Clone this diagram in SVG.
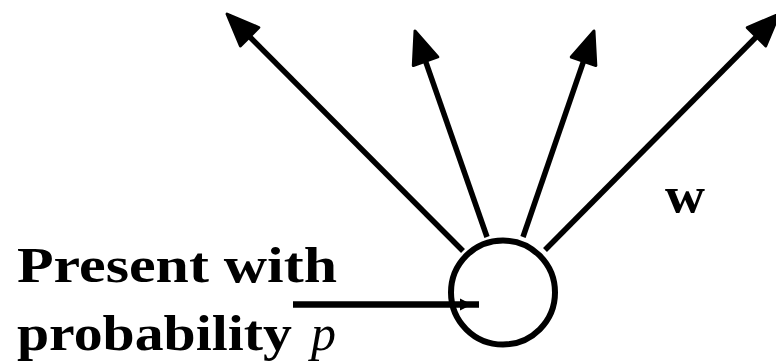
<svg xmlns="http://www.w3.org/2000/svg" width="776" height="361" viewBox="0 0 776 361">
<style>
.txt{font-family:"Liberation Serif","Times New Roman",serif;font-size:50px;fill:#000}
.b{font-weight:bold}
.edge{stroke:#000;stroke-width:5.5;fill:none}
</style>
<defs>
<marker id="ah" markerUnits="userSpaceOnUse" viewBox="-2 -16 38 32" markerWidth="38" markerHeight="32" refX="2" refY="0" orient="auto" overflow="visible">
<path d="M32,0 L0,-13 L0,13 Z" fill="#000" stroke="#000" stroke-width="3" stroke-linejoin="round"/>
</marker>
</defs>
<rect width="776" height="361" fill="#fff"/>
<g id="connectors">
<line class="edge" x1="463" y1="251" x2="248.2" y2="35.3" marker-end="url(#ah)"/>
<line class="edge" x1="487" y1="237" x2="424.9" y2="59.3" marker-end="url(#ah)"/>
<line class="edge" x1="523" y1="237" x2="584.2" y2="59.4" marker-end="url(#ah)"/>
<line class="edge" x1="545" y1="250" x2="757.9" y2="35.3" marker-end="url(#ah)"/>
<line x1="293" y1="304.5" x2="479" y2="304.5" stroke="#000" stroke-width="6.5"/>
<path d="M460,298.5 L472,304.5 L460,310.5 Z" fill="#000"/>
</g>
<g id="node">
<circle cx="503" cy="292.5" r="52" fill="none" stroke="#000" stroke-width="6"/>
</g>
<g id="labels">
<text class="txt b" x="17" y="282" textLength="320" lengthAdjust="spacingAndGlyphs">Present with</text>
<text class="txt b" x="17" y="350" textLength="275" lengthAdjust="spacingAndGlyphs">probability</text>
<text class="txt" x="311" y="350" font-style="italic">p</text>
<text class="txt b" x="665" y="212" textLength="40" lengthAdjust="spacingAndGlyphs">w</text>
</g>
</svg>
